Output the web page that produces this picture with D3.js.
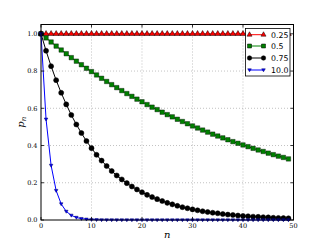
<!DOCTYPE html>
<html>
<head>
<meta charset="utf-8">
<script src="https://cdn.jsdelivr.net/npm/d3@7/dist/d3.min.js"></script>
<style>
body { margin: 0; background: #fff; }
svg { display: block; }
</style>
</head>
<body>
<svg width="327" height="245"></svg>
<script>
'use strict';

var n = d3.range(50);
var labels = ['0.25', '0.5', '0.75', '10.0'];

var p025 = [1,1,1,1,1,1,1,1,1,1, 1,1,1,1,1,1,1,1,1,1, 1,1,1,1,1,1,1,1,1,1,
	1,1,1,1,1,1,1,1,1,1, 1,1,1,1,1,1,1,1,1,1];
var p05 = [1.000,0.978,0.956,0.934,0.913,0.893,0.872,0.853,0.834,0.815,
	0.797,0.779,0.761,0.744,0.727,0.711,0.695,0.679,0.664,0.649,
	0.635,0.620,0.606,0.593,0.579,0.566,0.554,0.541,0.529,0.517,
	0.505,0.494,0.483,0.472,0.461,0.451,0.441,0.431,0.421,0.412,
	0.403,0.394,0.385,0.376,0.368,0.359,0.351,0.343,0.336,0.328];
var p075 = [1.000,0.909,0.826,0.751,0.683,0.621,0.564,0.513,0.467,0.424,
	0.386,0.350,0.319,0.290,0.263,0.239,0.218,0.198,0.180,0.164,
	0.149,0.135,0.123,0.112,0.102,0.092,0.084,0.076,0.069,0.063,
	0.057,0.052,0.047,0.043,0.039,0.036,0.032,0.029,0.027,0.024,
	0.022,0.020,0.018,0.017,0.015,0.014,0.012,0.011,0.010,0.009];
var p10 = [1.000,0.541,0.293,0.158,0.086,0.046,0.025,0.0135,0.0073,0.0040,
	0.0021,0.0012,0.0006,0.0003,0.0002,0.0001,0,0,0,0,
	0,0,0,0,0,0,0,0,0,0, 0,0,0,0,0,0,0,0,0,0, 0,0,0,0,0,0,0,0,0,0];

var xTicks = [0, 10, 20, 30, 40, 50];
var yTicks = [0.0, 0.2, 0.4, 0.6, 0.8, 1.0];

var series = [
	{name: labels[0], values: p025, color: '#ff0000', marker: 'tri'},
	{name: labels[1], values: p05, color: '#008000', marker: 'sq'},
	{name: labels[2], values: p075, color: '#000000', marker: 'circ'},
	{name: labels[3], values: p10, color: '#0000ff', marker: 'tridown'}
];

var svg = d3.select('svg');
var L = 41, R = 293.5, T = 24.5, B = 220;
var x = d3.scaleLinear().domain([0, 50]).range([L, R]);
var y = d3.scaleLinear().domain([0, 1.05]).range([B, T]);

// grid
var grid = svg.append('g');
grid.selectAll('.gx').data(xTicks.slice(1, -1)).enter().append('line')
	.attr('x1', function(d){ return x(d); }).attr('x2', function(d){ return x(d); })
	.attr('y1', T).attr('y2', B)
	.attr('stroke', '#999').attr('stroke-width', 0.6).attr('stroke-dasharray', '1,2');
grid.selectAll('.gy').data(yTicks.slice(1)).enter().append('line')
	.attr('x1', L).attr('x2', R)
	.attr('y1', function(d){ return y(d); }).attr('y2', function(d){ return y(d); })
	.attr('stroke', '#999').attr('stroke-width', 0.6).attr('stroke-dasharray', '1,2');

function markerPath(type, s){
	if (type == 'tri') return d3.symbol().type(d3.symbolTriangle).size(s)();
	if (type == 'sq') return d3.symbol().type(d3.symbolSquare).size(s)();
	if (type == 'circ') return d3.symbol().type(d3.symbolCircle).size(s)();
	return 'M-1.8,-1.2L1.8,-1.2L0,1.8Z';
}
var sizes = {tri: 14, sq: 20, circ: 20, tridown: 6};

var line = d3.line()
	.x(function(d, i){ return x(n[i]); })
	.y(function(d){ return y(d); });

var plot = svg.append('g');
series.forEach(function(s){
	plot.append('path').datum(s.values)
		.attr('d', line)
		.attr('fill', 'none')
		.attr('stroke', s.color)
		.attr('stroke-width', 1);
	plot.selectAll(null).data(s.values).enter().append('path')
		.attr('transform', function(d, i){ return 'translate(' + x(n[i]) + ',' + y(d) + ')'; })
		.attr('d', markerPath(s.marker, sizes[s.marker]))
		.attr('fill', s.color)
		.attr('stroke', s.marker == 'tridown' ? '#000060' : '#000')
		.attr('stroke-width', s.marker == 'sq' ? 0.4 : 0.5);
});

// frame
svg.append('rect')
	.attr('x', L).attr('y', T).attr('width', R - L).attr('height', B - T)
	.attr('fill', 'none').attr('stroke', '#000').attr('stroke-width', 1);

// ticks (inward, all sides)
var tk = svg.append('g').attr('stroke', '#000').attr('stroke-width', 0.8);
xTicks.forEach(function(d){
	tk.append('line').attr('x1', x(d)).attr('x2', x(d)).attr('y1', B).attr('y2', B - 3);
	tk.append('line').attr('x1', x(d)).attr('x2', x(d)).attr('y1', T).attr('y2', T + 3);
});
yTicks.forEach(function(d){
	tk.append('line').attr('x1', L).attr('x2', L + 3).attr('y1', y(d)).attr('y2', y(d));
	tk.append('line').attr('x1', R).attr('x2', R - 3).attr('y1', y(d)).attr('y2', y(d));
});

var serif = 'DejaVu Serif, serif';
svg.selectAll('.xl').data(xTicks).enter().append('text')
	.attr('x', function(d){ return x(d); }).attr('y', 228)
	.attr('text-anchor', 'middle')
	.attr('font-family', serif).attr('font-size', 6.5)
	.text(function(d){ return d; });
svg.selectAll('.yl').data(yTicks).enter().append('text')
	.attr('x', 37.5).attr('y', function(d){ return y(d) + 2.3; })
	.attr('text-anchor', 'end')
	.attr('font-family', serif).attr('font-size', 6.5)
	.text(function(d){ return d.toFixed(1); });

svg.append('text')
	.attr('x', (L + R) / 2).attr('y', 238)
	.attr('text-anchor', 'middle')
	.attr('font-family', serif).attr('font-style', 'italic').attr('font-size', 10)
	.text('n');

var yl = svg.append('text')
	.attr('transform', 'translate(24,' + ((T + B) / 2) + ') rotate(-90)')
	.attr('text-anchor', 'middle')
	.attr('font-family', serif).attr('font-style', 'italic').attr('font-size', 10);
yl.append('tspan').text('p');
yl.append('tspan').attr('font-size', 7).attr('dy', 2).text('n');

// legend
var lg = svg.append('g');
lg.append('rect')
	.attr('x', 245.5).attr('y', 28.5).attr('width', 44.5).attr('height', 47.5)
	.attr('fill', '#fff').attr('stroke', '#000').attr('stroke-width', 0.8);
var rowY = [34.7, 46, 58, 70];
series.forEach(function(s, i){
	var ry = rowY[i];
	lg.append('line').attr('x1', 249.5).attr('x2', 263.5).attr('y1', ry).attr('y2', ry)
		.attr('stroke', s.color).attr('stroke-width', 1);
	[249.5, 263.5].forEach(function(mx){
		lg.append('path')
			.attr('transform', 'translate(' + mx + ',' + ry + ')')
			.attr('d', markerPath(s.marker, sizes[s.marker] * 0.8))
			.attr('fill', s.color)
			.attr('stroke', s.marker == 'tridown' ? '#000060' : '#000')
			.attr('stroke-width', 0.5);
	});
	lg.append('text')
		.attr('x', 271).attr('y', ry + 3)
		.attr('font-family', 'DejaVu Sans, sans-serif').attr('font-size', 7.8)
		.text(s.name);
});
</script>
</body>
</html>
